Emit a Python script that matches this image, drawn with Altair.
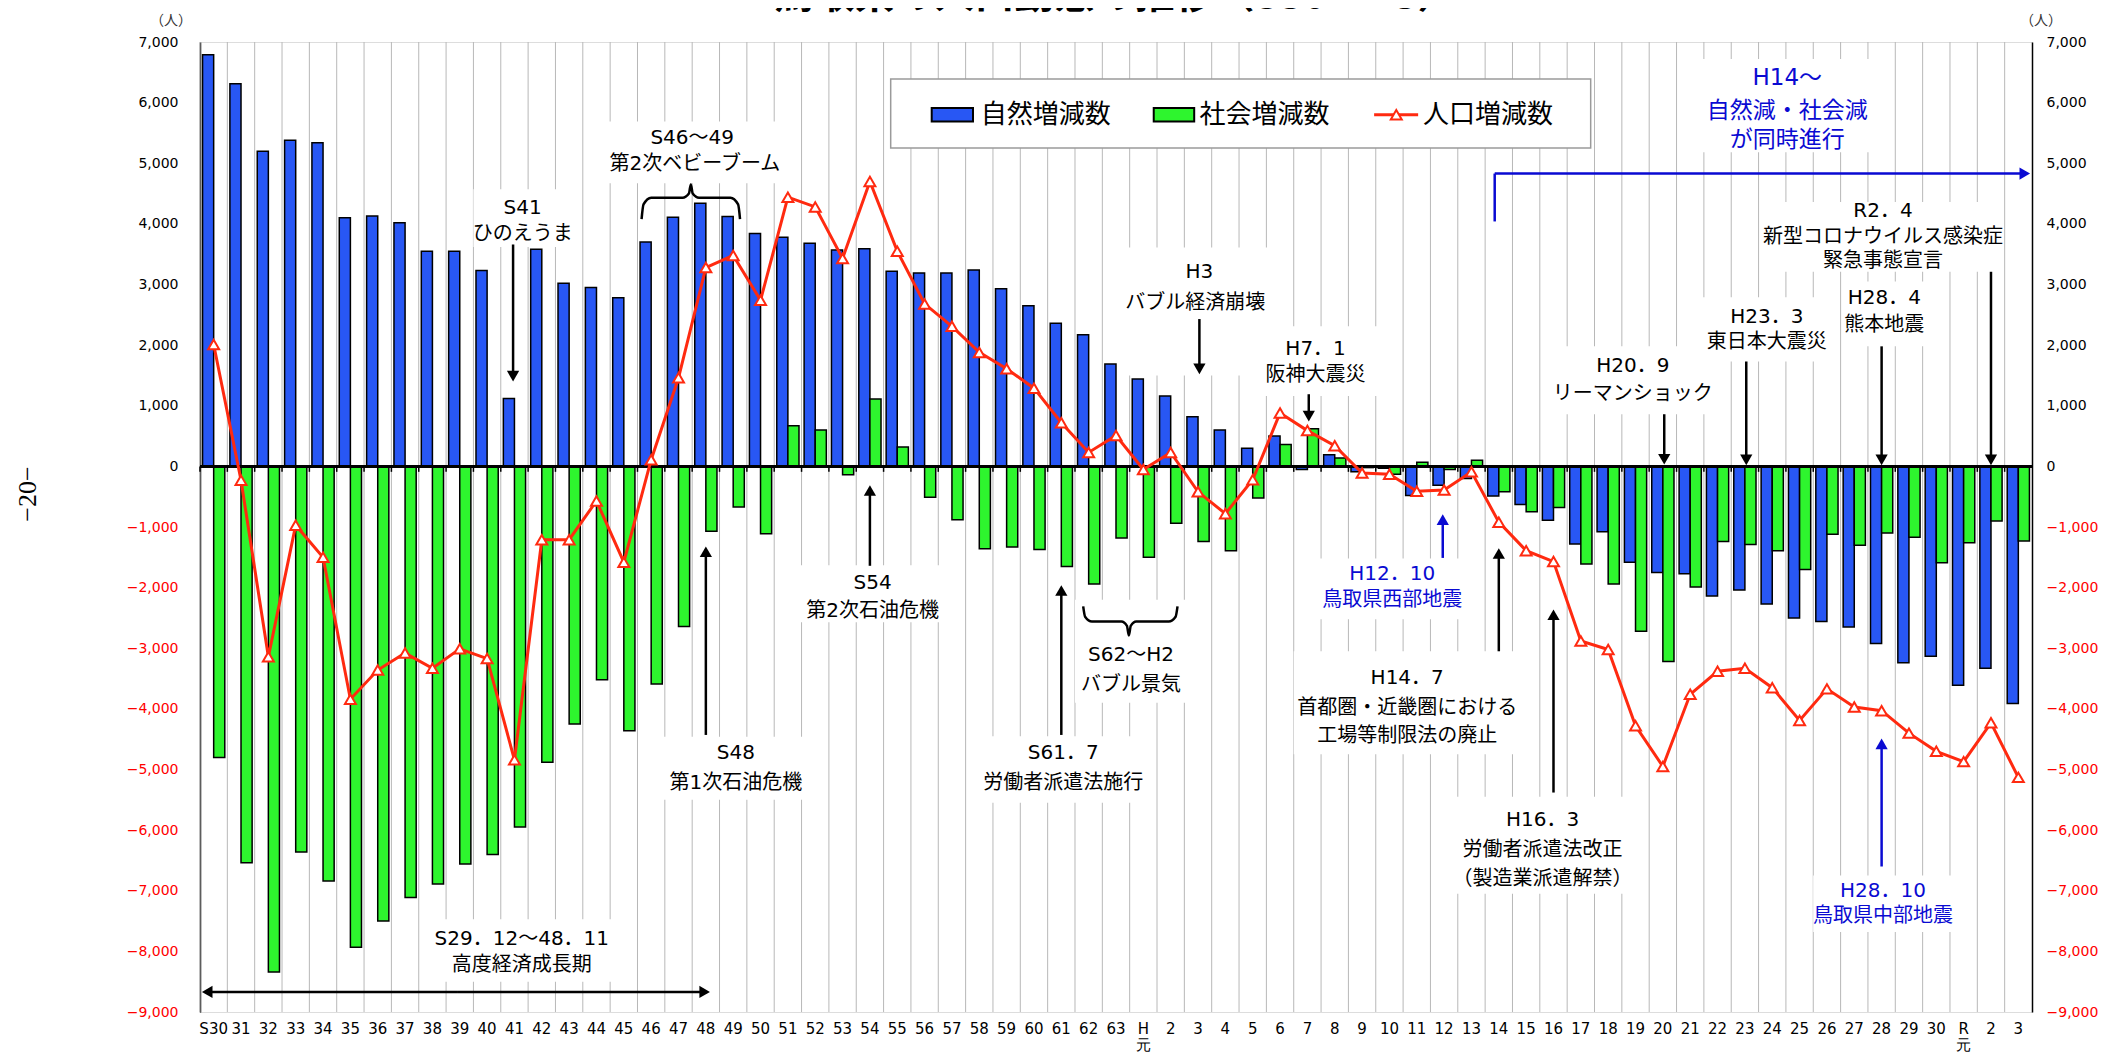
import altair as alt
import pandas as pd

# ---------------- data ----------------
categories = ["S30", "S31", "S32", "S33", "S34", "S35", "S36", "S37", "S38", "S39",
              "S40", "S41", "S42", "S43", "S44", "S45", "S46", "S47", "S48", "S49",
              "S50", "S51", "S52", "S53", "S54", "S55", "S56", "S57", "S58", "S59",
              "S60", "S61", "S62", "S63", "H元", "H2", "H3", "H4", "H5", "H6",
              "H7", "H8", "H9", "H10", "H11", "H12", "H13", "H14", "H15", "H16",
              "H17", "H18", "H19", "H20", "H21", "H22", "H23", "H24", "H25", "H26",
              "H27", "H28", "H29", "H30", "R元", "R2", "R3"]

natural = [6790, 6310, 5200, 5380, 5340, 4100, 4130, 4020, 3550, 3550,
           3230, 1120, 3580, 3020, 2950, 2780, 3700, 4110, 4340, 4120,
           3840, 3780, 3680, 3570, 3590, 3220, 3190, 3190, 3240, 2930,
           2650, 2360, 2170, 1690, 1440, 1160, 820, 600, 300, 500,
           -50, 190, -90, -30, -480, -310, -200, -490, -630, -890,
           -1280, -1080, -1580, -1750, -1770, -2140, -2040, -2270, -2500, -2560,
           -2650, -2920, -3240, -3130, -3610, -3330, -3910]

social = [-4800, -6540, -8340, -6360, -6840, -7930, -7500, -7110, -6890, -6560,
          -6400, -5950, -4880, -4250, -3520, -4360, -3590, -2640, -1070, -670,
          -1110, 670, 600, -140, 1110, 320, -510, -880, -1360, -1330,
          -1370, -1650, -1940, -1180, -1500, -940, -1240, -1390, -520, 360,
          620, 140, -20, -130, 70, -50, 100, -420, -750, -680,
          -1610, -1940, -2720, -3220, -1990, -1240, -1290, -1390, -1700, -1120,
          -1300, -1100, -1170, -1590, -1260, -900, -1230]

total = [2010, -230, -3140, -970, -1500, -3840, -3360, -3080, -3330, -3010,
         -3170, -4840, -1210, -1210, -570, -1580, 110, 1460, 3280, 3480,
         2740, 4440, 4280, 3430, 4700, 3550, 2680, 2310, 1880, 1610,
         1290, 720, 230, 510, -50, 230, -420, -780, -220, 880,
         590, 340, -110, -130, -410, -390, -90, -920, -1390, -1570,
         -2880, -3020, -4280, -4950, -3760, -3380, -3330, -3650, -4190, -3670,
         -3970, -4030, -4400, -4700, -4870, -4230, -5130]

series_names = ["自然増減数", "社会増減数", "人口増減数"]
y_ticks = [-9000, -8000, -7000, -6000, -5000, -4000, -3000, -2000, -1000,
           0, 1000, 2000, 3000, 4000, 5000, 6000, 7000]

title_text = "鳥取県の人口動態の推移（S30～R3）"

# ---------------- style ----------------
BLUE = "#2857f4"
GREEN = "#2ef52e"
RED = "#ff2a10"
ABLUE = "#0a0ad2"
AFONT = '"DejaVu Sans", "Noto Sans CJK JP"'
JFONT = "Noto Sans CJK JP"
W, H = 1832, 970
N = len(categories)

yscale = alt.Scale(domain=[-9000, 7000], nice=False, zero=False)
band_scale = alt.Scale(domain=categories, paddingInner=0, paddingOuter=0)
q_scale = alt.Scale(domain=[0, N], nice=False, zero=False)


def XB(**kw):
    return alt.X("key:N", sort=categories, scale=band_scale, **kw)


def XQ(field="x"):
    return alt.X(f"{field}:Q", scale=q_scale, axis=None)


def YQ(field="y"):
    return alt.Y(f"{field}:Q", scale=yscale, axis=None)


label_color = {"condition": {"test": "datum.value < 0", "value": "#ff0000"}, "value": "#000000"}

# ---------------- base data frames ----------------
cat_df = pd.DataFrame({"key": categories, "natural": natural, "social": social, "total": total})
bars_df = pd.DataFrame({
    "key": categories + categories,
    "series": [series_names[0]] * N + [series_names[1]] * N,
    "value": natural + social,
})

# gridlines at category boundaries
grid = alt.Chart(cat_df).mark_rule(color="#b8b8b8", strokeWidth=1).encode(
    x=XB(axis=None, bandPosition=0), y=alt.value(0), y2=alt.value(H))

# ---------------- annotation boxes (white backgrounds) ----------------
boxes = [
    (10.0, 13.7, 4570, 3620), (14.6, 21.6, 5690, 4670), (16.9, 22.5, -4460, -5500),
    (21.8, 27.6, -1630, -2570), (28.4, 34.7, -4450, -5550), (32.0, 36.2, -2200, -3900),
    (33.9, 39.3, 3610, 1500), (38.5, 43.05, 2310, 1160), (40.6, 46.7, -1520, -2520),
    (40.0, 48.2, -3050, -4750), (45.9, 52.3, -5450, -7050), (49.4, 55.4, 1980, 860),
    (54.75, 59.9, 2790, 1730), (60.05, 63.2, 3050, 1980), (57.1, 65.95, 4360, 3210),
    (54.9, 61.8, 6720, 5180), (59.0, 64.1, -6750, -7680), (8.4, 15.1, -7470, -8500),
]
box_df = pd.DataFrame(boxes, columns=["x", "x2", "y", "y2"])
box_layer = alt.Chart(box_df).mark_rect(fill="white").encode(
    x=XQ(), x2="x2:Q", y=YQ(), y2="y2:Q")

legend_box_df = pd.DataFrame([(25.26, 50.86, 6390, 5250)], columns=["x", "x2", "y", "y2"])
legend_box = alt.Chart(legend_box_df).mark_rect(fill="white", stroke="#9a9a9a", strokeWidth=1.5).encode(
    x=XQ(), x2="x2:Q", y=YQ(), y2="y2:Q")

# ---------------- bars ----------------
bars = alt.Chart(bars_df).mark_bar(stroke="black", strokeWidth=1.5).encode(
    x=XB(axis=alt.Axis(orient="bottom", domain=False, ticks=False, grid=False, labelAngle=0,
                       labelFont="DejaVu Sans", labelFontSize=15, labelColor="black",
                       labelPadding=9, labelLineHeight=16, labelOverlap=False, title=None,
                       labelExpr="indexof(datum.value, '元') >= 0 ? [substring(datum.value, 0, 1), '元'] : (datum.value == 'S30' ? 'S30' : substring(datum.value, 1))")),
    xOffset=alt.XOffset("series:N", sort=series_names[:2],
                        scale=alt.Scale(domain=series_names[:2], paddingInner=0, paddingOuter=0.23)),
    y=alt.Y("value:Q", scale=yscale,
            axis=alt.Axis(orient="left", values=y_ticks, format=",.0f", domainColor="black", domainWidth=1.5,
                          ticks=False, tickSize=0, grid=False, labelFont="DejaVu Sans", labelFontSize=14,
                          labelPadding=22, labelColor=label_color, title=None)),
    color=alt.Color("series:N", scale=alt.Scale(domain=series_names[:2], range=[BLUE, GREEN]), legend=None),
)

# zero line and boundary ticks
zero_df = pd.DataFrame({"y": [0]})
zero_line = alt.Chart(zero_df).mark_rule(color="black", strokeWidth=3).encode(
    y=YQ(), x=alt.value(0), x2=alt.value(W))
zt_df = pd.DataFrame({"key": categories, "y0": [0] * N, "y1": [-90] * N})
zero_ticks = alt.Chart(zt_df).mark_rule(color="black", strokeWidth=1.5).encode(
    x=XB(axis=None, bandPosition=0), y=YQ("y0"), y2="y1:Q")

# ---------------- line ----------------
line = alt.Chart(cat_df).mark_line(color=RED, strokeWidth=3).encode(
    x=XB(axis=None), y=alt.Y("total:Q", scale=yscale, axis=None))
pts = alt.Chart(cat_df).mark_point(shape="triangle-up", filled=True, fill="white", stroke=RED,
                                   strokeWidth=2, size=120, opacity=1).encode(
    x=XB(axis=None), y=alt.Y("total:Q", scale=yscale, axis=None))

right_axis = alt.Chart(cat_df).mark_point(opacity=0).encode(
    x=XB(axis=None),
    y=alt.Y("total:Q", scale=yscale,
            axis=alt.Axis(orient="right", values=y_ticks, format=",.0f", domainColor="black", domainWidth=1.5,
                          ticks=False, tickSize=0, grid=False, labelFont="DejaVu Sans", labelFontSize=14,
                          labelPadding=14, labelColor=label_color, title=None)))

# ---------------- arrows ----------------
# (x1, y1, x2, y2, color): arrow points from (x1,y1) towards (x2,y2)
arrows = [
    (11.45, 3660, 11.45, 1400, "black"),
    (18.5, -4430, 18.5, -1320, "black"),
    (24.5, -1640, 24.5, -310, "black"),
    (31.5, -4430, 31.5, -1960, "black"),
    (36.55, 2430, 36.55, 1520, "black"),
    (40.55, 1190, 40.55, 740, "black"),
    (45.45, -1510, 45.45, -790, ABLUE),
    (47.5, -3050, 47.5, -1350, "black"),
    (49.5, -5380, 49.5, -2360, "black"),
    (53.55, 860, 53.55, 30, "black"),
    (56.55, 1730, 56.55, 20, "black"),
    (61.5, 1980, 61.5, 20, "black"),
    (65.5, 3210, 65.5, 20, "black"),
    (61.5, -6600, 61.5, -4490, ABLUE),
    (47.35, 4830, 66.93, 4830, ABLUE),
    (9.4, -8670, 18.65, -8670, "black"),
    (9.4, -8670, 0.07, -8670, "black"),
]
plain_segments = [(47.35, 4040, 47.35, 4830, ABLUE)]

HV = 88     # half-height of arrow head in data units (vertical)
HH = 0.194  # half-height of arrow head in category units (horizontal)
seg_rows, head_rows = [], []
for x1, y1, x2, y2, c in arrows:
    if x1 == x2:
        d = 1 if y2 > y1 else -1
        cy = y2 - d * HV
        seg_rows.append((x1, y1, x2, cy, c))
        head_rows.append((x2, cy, "triangle-up" if d > 0 else "triangle-down", c))
    else:
        d = 1 if x2 > x1 else -1
        cx = x2 - d * HH
        seg_rows.append((x1, y1, cx, y2, c))
        head_rows.append((cx, y2, "triangle-right" if d > 0 else "triangle-left", c))
for s in plain_segments:
    seg_rows.append(s)

seg_df = pd.DataFrame(seg_rows, columns=["x", "y", "x2", "y2", "color"])
head_df = pd.DataFrame(head_rows, columns=["x", "y", "shape", "color"])
seg_layer = alt.Chart(seg_df).mark_rule(strokeWidth=2.5).encode(
    x=XQ(), x2="x2:Q", y=YQ(), y2="y2:Q", color=alt.Color("color:N", scale=None))
head_layer = alt.Chart(head_df).mark_point(filled=True, size=150, opacity=1).encode(
    x=XQ(), y=YQ(), shape=alt.Shape("shape:N", scale=None), color=alt.Color("color:N", scale=None))

# ---------------- braces ----------------
brace_pts = [
    ("a", 16.15, 4080), ("a", 16.22, 4320), ("a", 16.5, 4430), ("a", 17.65, 4430), ("a", 17.88, 4500),
    ("a", 17.95, 4650), ("a", 18.02, 4500), ("a", 18.25, 4430), ("a", 19.4, 4430), ("a", 19.68, 4320),
    ("a", 19.75, 4080),
    ("b", 32.3, -2310), ("b", 32.37, -2480), ("b", 32.62, -2560), ("b", 33.7, -2560), ("b", 33.9, -2630),
    ("b", 33.97, -2790), ("b", 34.04, -2630), ("b", 34.24, -2560), ("b", 35.43, -2560), ("b", 35.68, -2480),
    ("b", 35.75, -2310),
]
brace_df = pd.DataFrame(brace_pts, columns=["id", "x", "y"])
brace_df["ord"] = range(len(brace_df))
brace_layer = alt.Chart(brace_df).mark_line(color="black", strokeWidth=2.5, interpolate="monotone").encode(
    x=XQ(), y=YQ(), detail="id:N", order="ord:Q")

# ---------------- annotation texts ----------------
ann_rows = [
    (11.8, 4260, "S41", "black", 20), (11.8, 3840, "ひのえうま", "black", 20),
    (18.0, 5410, "S46～49", "black", 20), (18.1, 4980, "第2次ベビーブーム", "black", 20),
    (19.6, -4720, "S48", "black", 20), (19.6, -5230, "第1次石油危機", "black", 20),
    (24.6, -1930, "S54", "black", 20), (24.6, -2380, "第2次石油危機", "black", 20),
    (31.57, -4720, "S61．7", "black", 20), (31.57, -5230, "労働者派遣法施行", "black", 20),
    (34.05, -3110, "S62～H2", "black", 20), (34.05, -3600, "バブル景気", "black", 20),
    (36.55, 3200, "H3", "black", 20), (36.4, 2690, "バブル経済崩壊", "black", 20),
    (40.8, 1930, "H7．1", "black", 20), (40.8, 1500, "阪神大震災", "black", 20),
    (43.6, -1780, "H12．10", ABLUE, 20), (43.6, -2210, "鳥取県西部地震", ABLUE, 20),
    (44.15, -3490, "H14．7", "black", 20), (44.15, -3990, "首都圏・近畿圏における", "black", 20),
    (44.15, -4450, "工場等制限法の廃止", "black", 20),
    (49.1, -5830, "H16．3", "black", 20), (49.1, -6320, "労働者派遣法改正", "black", 20),
    (49.1, -6800, "（製造業派遣解禁）", "black", 20),
    (52.4, 1650, "H20．9", "black", 20), (52.4, 1190, "リーマンショック", "black", 20),
    (57.3, 2460, "H23．3", "black", 20), (57.3, 2050, "東日本大震災", "black", 20),
    (61.6, 2770, "H28．4", "black", 20), (61.6, 2340, "熊本地震", "black", 20),
    (61.55, 4210, "R2．4", "black", 20), (61.55, 3780, "新型コロナウイルス感染症", "black", 20),
    (61.55, 3380, "緊急事態宣言", "black", 20),
    (58.05, 6400, "H14～", ABLUE, 23), (58.05, 5870, "自然減・社会減", ABLUE, 23),
    (58.05, 5380, "が同時進行", ABLUE, 23),
    (61.55, -7000, "H28．10", ABLUE, 20), (61.55, -7410, "鳥取県中部地震", ABLUE, 20),
    (11.77, -7790, "S29．12～48．11", "black", 20), (11.77, -8220, "高度経済成長期", "black", 20),
]
ann_df = pd.DataFrame(ann_rows, columns=["x", "y", "text", "color", "size"])
ann_layer = alt.Chart(ann_df).mark_text(font=AFONT, align="center", baseline="middle").encode(
    x=XQ(), y=YQ(), text="text:N", color=alt.Color("color:N", scale=None),
    size=alt.Size("size:Q", scale=None))

# ---------------- legend ----------------
sw_df = pd.DataFrame([(26.76, 28.27, 5910, 5690, BLUE), (34.88, 36.36, 5910, 5690, GREEN)],
                     columns=["x", "x2", "y", "y2", "color"])
swatches = alt.Chart(sw_df).mark_rect(stroke="black", strokeWidth=2).encode(
    x=XQ(), x2="x2:Q", y=YQ(), y2="y2:Q", color=alt.Color("color:N", scale=None))
lg_line_df = pd.DataFrame([(42.94, 44.55, 5800)], columns=["x", "x2", "y"])
lg_line = alt.Chart(lg_line_df).mark_rule(color=RED, strokeWidth=3).encode(x=XQ(), x2="x2:Q", y=YQ())
lg_pt_df = pd.DataFrame([(43.75, 5800)], columns=["x", "y"])
lg_pt = alt.Chart(lg_pt_df).mark_point(shape="triangle-up", filled=True, fill="white", stroke=RED,
                                       strokeWidth=2, size=120, opacity=1).encode(x=XQ(), y=YQ())
lg_txt_df = pd.DataFrame([(28.55, 5800, series_names[0]), (36.55, 5800, series_names[1]),
                          (44.73, 5800, series_names[2])], columns=["x", "y", "text"])
lg_txt = alt.Chart(lg_txt_df).mark_text(font=JFONT, fontSize=26, align="left", baseline="middle",
                                        color="black").encode(x=XQ(), y=YQ(), text="text:N")

# ---------------- titles / misc text ----------------
title_df = pd.DataFrame([(33.5, title_text)], columns=["x", "text"])
title = alt.Chart(title_df).mark_text(font=JFONT, fontSize=40, fontWeight="bold", align="center",
                                      baseline="bottom", color="black").encode(
    x=XQ(), y=alt.value(-26), text="text:N")

unit_df = pd.DataFrame({"text": ["（人）"]})
unit_left = alt.Chart(unit_df).mark_text(font=JFONT, fontSize=14, align="center", baseline="middle",
                                         color="#333333").encode(
    x=alt.value(-29), y=alt.value(-21), text="text:N")
unit_right = alt.Chart(unit_df).mark_text(font=JFONT, fontSize=14, align="center", baseline="middle",
                                          color="#333333").encode(
    x=alt.value(1841), y=alt.value(-21), text="text:N")

page_df = pd.DataFrame({"text": ["−20−"]})
page_no = alt.Chart(page_df).mark_text(font="Liberation Serif", fontSize=26, align="center",
                                       baseline="middle", angle=270, color="black").encode(
    x=alt.value(-172), y=alt.value(452), text="text:N")

chart = alt.layer(
    grid, box_layer, legend_box, bars, zero_line, zero_ticks, line, pts,
    seg_layer, head_layer, brace_layer, ann_layer,
    swatches, lg_line, lg_pt, lg_txt, title, unit_left, unit_right, page_no, right_axis,
).resolve_scale(x="independent").resolve_axis(y="independent").properties(
    width=W, height=H,
    padding={"left": 192, "top": 34, "right": 75, "bottom": 40},
    autosize=alt.AutoSizeParams(type="none"),
).configure_view(stroke=None).configure(background="white")

chart.save("out.html", embed_options={"renderer": "svg", "actions": False})
